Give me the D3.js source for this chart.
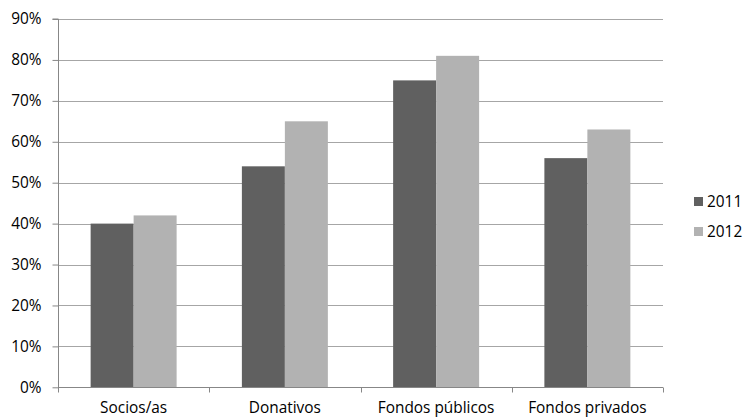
<!DOCTYPE html>
<html><head><meta charset="utf-8">
<script src="https://cdn.jsdelivr.net/npm/d3@7"></script>
<style>body{margin:0;background:#fff}svg{display:block}text{font-family:"Open Sans","Liberation Sans",sans-serif;fill:#000}</style>
</head><body><svg id="c" width="745" height="418"></svg>
<script>
const categories = ["Socios/as","Donativos","Fondos públicos","Fondos privados"];
const seriesNames = ["2011","2012"];
const values2011 = [40,54,75,56];
const values2012 = [42,65,81,63];
const yTicks = [0,10,20,30,40,50,60,70,80,90];
const colors = ["#606060","#b2b2b2"];

const svg = d3.select("#c");
const L=58, R=663, T=19, B=387.3;
const FS = "15.4px";
const x = d3.scaleBand().domain(categories).range([L,R]).paddingInner(0).paddingOuter(0);
const xs = d3.scaleBand().domain(seriesNames).range([0,x.bandwidth()]).paddingInner(0).paddingOuter(0.759);
const y = d3.scaleLinear().domain([0,90]).range([B,T]);

// grid
svg.append("g").selectAll("line").data(yTicks.filter(d=>d>0)).join("line")
  .attr("x1",L).attr("x2",R).attr("y1",d=>Math.round(y(d))+0.5).attr("y2",d=>Math.round(y(d))+0.5)
  .attr("stroke","#a6a6a6").attr("stroke-width",1);

// bars
const data = categories.map((c,i)=>({c, vals:[values2011[i],values2012[i]]}));
const g = svg.append("g");
data.forEach(d=>{
  d.vals.forEach((v,j)=>{
    g.append("rect").attr("x",x(d.c)+xs(seriesNames[j])).attr("width",xs.bandwidth())
     .attr("y",y(v)).attr("height",B-y(v)).attr("fill",colors[j]);
  });
});

// y axis
const ya = svg.append("g").attr("transform",`translate(${L+0.5},0)`)
  .call(d3.axisLeft(y).tickValues(yTicks).tickFormat(d=>d+"%").tickSize(6).tickPadding(11));
ya.select(".domain").attr("stroke","#878787").attr("d",`M-6,${T}H0V${B}`);
ya.selectAll(".tick line").attr("stroke","#878787");
ya.selectAll(".tick text").style("font-size",FS).attr("fill","#000");

// x axis
const bottom = Math.round(B)+0.5;
const xa = svg.append("g");
xa.append("line").attr("x1",L).attr("x2",R).attr("y1",bottom).attr("y2",bottom).attr("stroke","#878787");
const bounds = categories.map(c=>x(c)).concat([R]);
xa.selectAll("line.t").data(bounds).join("line").attr("class","t")
  .attr("x1",d=>Math.round(d)+0.5).attr("x2",d=>Math.round(d)+0.5).attr("y1",bottom).attr("y2",bottom+5).attr("stroke","#878787");
xa.selectAll("text").data(categories).join("text")
  .attr("x",d=>x(d)+x.bandwidth()/2).attr("y",413).attr("text-anchor","middle").style("font-size",FS).text(d=>d);

// legend
const lg = svg.append("g");
seriesNames.forEach((s,i)=>{
  const yy = 197 + i*30;
  lg.append("rect").attr("x",694).attr("y",yy).attr("width",9).attr("height",9).attr("fill",colors[i]);
  lg.append("text").attr("x",707).attr("y",yy+10).style("font-size",FS).text(s);
});
</script></body></html>
